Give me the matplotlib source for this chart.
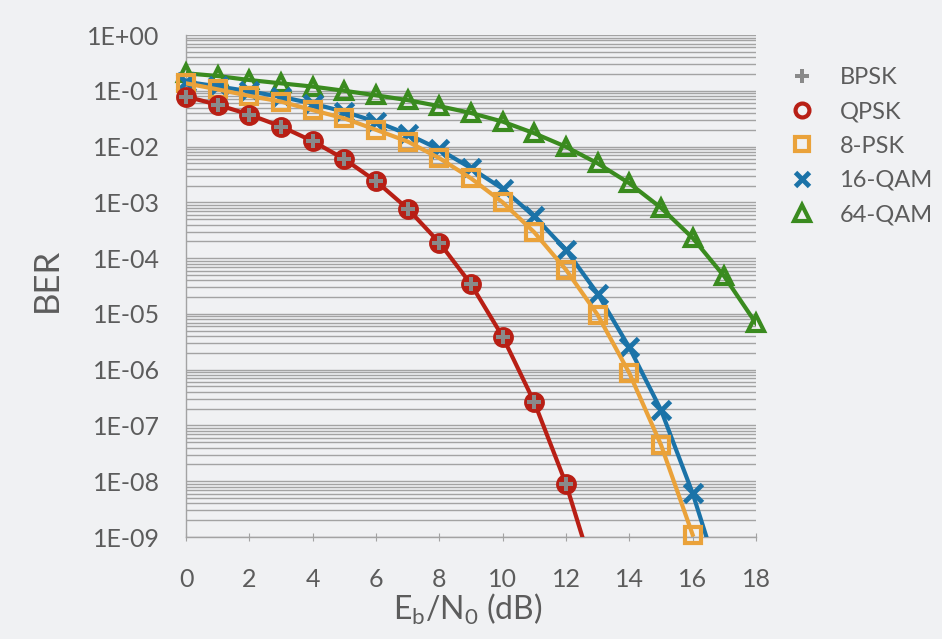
import numpy as np
import matplotlib
matplotlib.use("Agg")
import matplotlib.pyplot as plt
from matplotlib.lines import Line2D
from matplotlib.ticker import LogLocator, FuncFormatter, NullFormatter

plt.rcParams['font.family'] = ['Lato', 'DejaVu Sans']
plt.rcParams['mathtext.fontset'] = 'custom'
plt.rcParams['mathtext.rm'] = 'Lato'
plt.rcParams['mathtext.default'] = 'regular'

# Eb/N0 (dB) and BER values
snr_psk = [0, 1, 2, 3, 4, 5, 6, 7, 8, 9, 10, 11, 12, 13]
ber_bpsk = [7.9e-2, 5.6e-2, 3.75e-2, 2.29e-2, 1.25e-2, 5.95e-3, 2.39e-3,
            7.7e-4, 1.9e-4, 3.4e-5, 3.9e-6, 2.6e-7, 9.0e-9, 1.3e-10]
ber_qpsk = ber_bpsk

snr_8psk = [0, 1, 2, 3, 4, 5, 6, 7, 8, 9, 10, 11, 12, 13, 14, 15, 16]
ber_8psk = [0.136, 0.106, 0.081, 0.064, 0.045, 0.032, 0.020, 0.0123, 0.0062,
            0.0027, 1.0e-3, 2.9e-4, 6.2e-5, 9.6e-6, 8.7e-7, 4.5e-8, 1.1e-9]

snr_16qam = [0, 1, 2, 3, 4, 5, 6, 7, 8, 9, 10, 11, 12, 13, 14, 15, 16, 17]
ber_16qam = [0.145, 0.12, 0.098, 0.078, 0.059, 0.042, 0.028, 0.0167, 0.0089,
             0.0041, 1.75e-3, 5.6e-4, 1.4e-4, 2.3e-5, 2.5e-6, 1.9e-7, 6.1e-9, 9.7e-11]

snr_64qam = [0, 1, 2, 3, 4, 5, 6, 7, 8, 9, 10, 11, 12, 13, 14, 15, 16, 17, 18]
ber_64qam = [0.206, 0.184, 0.156, 0.136, 0.119, 0.100, 0.083, 0.068, 0.053,
             0.040, 0.028, 0.0173, 0.0099, 0.005, 0.0022, 8.0e-4, 2.3e-4,
             4.7e-5, 6.8e-6]

labels = ['BPSK', 'QPSK', '8-PSK', '16-QAM', '64-QAM']

gray = '#8a8a8a'
red = '#b81f15'
orange = '#eaa23a'
blue = '#1b73a8'
green = '#3a8b1f'
txt = '#5c5c5c'
bg = '#f0f1f3'

fig = plt.figure(figsize=(9.42, 6.39), dpi=100, facecolor=bg)
ax = fig.add_axes([0.1975, 0.1596, 0.605, 0.7856], facecolor=bg)
ax.set_yscale('log')
ax.set_ylim(1e-9, 1)
ax.set_xlim(0, 18)

ymin = 1e-9


def draw(x, y, color, marker, ms, mew, mfc='none', z=3, line=True):
    x = np.array(x)
    y = np.array(y)
    if line:
        ax.plot(x, y, color=color, lw=3, zorder=z, solid_joinstyle='round')
    keep = y >= ymin
    ax.plot(x[keep], y[keep], linestyle='none', marker=marker, ms=ms,
            mec=color, mfc=mfc, mew=mew, zorder=z + 0.5, clip_on=False)


draw(snr_64qam, ber_64qam, green, '^', 12, 3, z=3)
draw(snr_16qam, ber_16qam, blue, 'x', 13, 3.5, z=4)
draw(snr_8psk, ber_8psk, orange, 's', 11, 3, z=5)
draw(snr_psk, ber_qpsk, red, 'o', 12, 3, mfc=red, z=6)
draw(snr_psk, ber_bpsk, gray, 'P', 10, 0, mfc=gray, z=7, line=False)

# grid
ax.yaxis.set_major_locator(LogLocator(base=10, numticks=20))
ax.yaxis.set_minor_locator(LogLocator(base=10, subs=np.arange(2, 10), numticks=20))
ax.yaxis.set_minor_formatter(NullFormatter())
ax.yaxis.set_major_formatter(FuncFormatter(
    lambda v, p: '1E%+03d' % int(round(np.log10(v)))))
ax.grid(True, which='both', axis='y', color='#a3a3a3', lw=1.0)
ax.set_axisbelow(True)

ax.set_xticks(np.arange(0, 19, 2))
ax.tick_params(axis='x', direction='inout', length=6, color='#a3a3a3',
               labelsize=18, labelcolor=txt, pad=19)
ax.tick_params(axis='y', which='both', length=0, labelsize=18,
               labelcolor=txt, pad=19)

for s in ['top', 'right']:
    ax.spines[s].set_visible(False)
for s in ['left', 'bottom']:
    ax.spines[s].set_color('#a3a3a3')
    ax.spines[s].set_linewidth(1.0)

fig.text(468 / 942, 1 - 620 / 639, r'E$_b$/N$_0$ (dB)', fontsize=23,
         color=txt, ha='center', va='baseline')
fig.text(47 / 942, 1 - 280 / 639, 'BER', fontsize=25, color=txt,
         rotation=90, ha='center', va='center')

handles = [
    Line2D([], [], linestyle='none', marker='P', ms=10, mfc=gray, mec=gray, mew=0),
    Line2D([], [], linestyle='none', marker='o', ms=10, mfc='none', mec=red, mew=3),
    Line2D([], [], linestyle='none', marker='s', ms=10, mfc='none', mec=orange, mew=3),
    Line2D([], [], linestyle='none', marker='x', ms=10, mec=blue, mew=3.5),
    Line2D([], [], linestyle='none', marker='^', ms=11, mfc='none', mec=green, mew=3),
]
ax.legend(handles, labels, loc='upper left', bbox_to_anchor=(1.0596, 0.936),
          frameon=False, fontsize=17, labelcolor=txt, handlelength=1.0,
          handletextpad=1.1, labelspacing=0.56, borderpad=0, borderaxespad=0)

fig.savefig('out.png', dpi=100, facecolor=bg)
